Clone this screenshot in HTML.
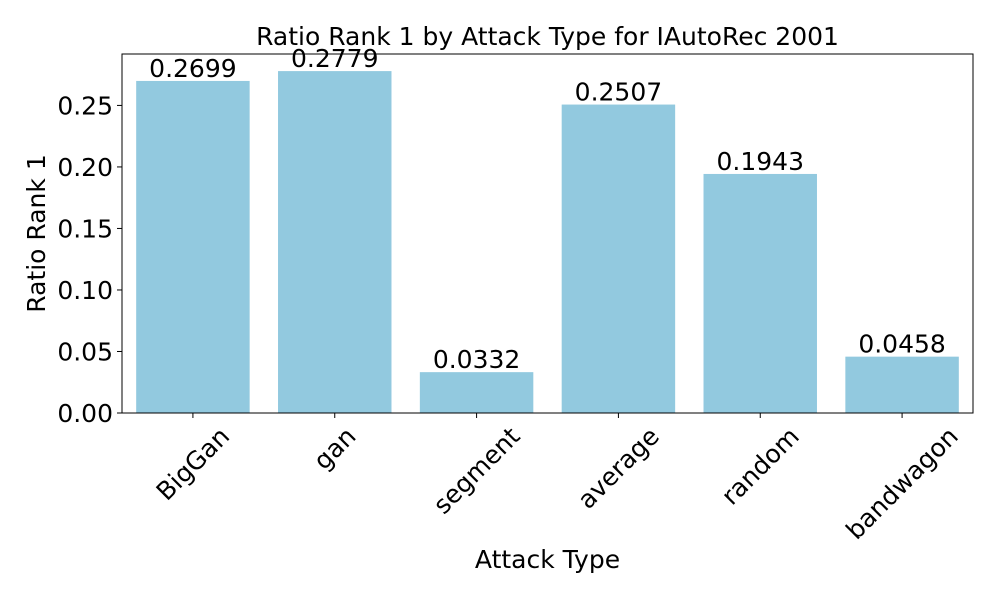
<!DOCTYPE html>
<html><head><meta charset="utf-8"><style>
body{margin:0;background:#fff}
svg text{font-family:"DejaVu Sans","Liberation Sans",sans-serif;fill:#000}
</style></head><body>
<svg id="chart" width="1000" height="600">
<g id="g"></g>
</svg>
<script>
const categories = ["BigGan","gan","segment","average","random","bandwagon"];
const values = [0.2699,0.2779,0.0332,0.2507,0.1943,0.0458];
const valueLabels = ["0.2699","0.2779","0.0332","0.2507","0.1943","0.0458"];
const yTicks = [0,0.05,0.10,0.15,0.20,0.25];
const yTickLabels = ["0.00","0.05","0.10","0.15","0.20","0.25"];

const NS="http://www.w3.org/2000/svg";
const g=document.getElementById('g');
const L=122,R=973,T=54,B=413;
const FS=25;
const ymax=Math.max(...values)*1.05;
const slot=(R-L)/categories.length;
const x=i=>L+slot*(i+0.5);
const y=v=>B-(v/ymax)*(B-T);
function el(t,a,txt){const e=document.createElementNS(NS,t);for(const k in a)e.setAttribute(k,a[k]);if(txt!==undefined)e.textContent=txt;g.appendChild(e);return e;}

categories.forEach((c,i)=>{
  const bw=slot*0.8;
  const b=el('rect',{x:x(i)-bw/2,y:y(values[i]),width:bw,height:B-y(values[i]),fill:'#92c9df'});
  
  
  const vl=el('text',{x:x(i),y:y(values[i])-4,'text-anchor':'middle','font-size':FS},valueLabels[i]);
  
  
  const tk=el('line',{x1:x(i),x2:x(i),y1:B,y2:B+5,stroke:'#000','stroke-width':1});
  
  
  const t=el('text',{'font-size':FS,'text-anchor':'middle','dominant-baseline':'central'},c);
  const len=t.getComputedTextLength();
  const cy=B+10+(len+FS)*0.7071/2;
  t.setAttribute('transform',`translate(${x(i)},${cy}) rotate(-45)`);
  
  
});
yTicks.forEach((v,i)=>{
  const tk=el('line',{x1:L-5,x2:L,y1:y(v),y2:y(v),stroke:'#000','stroke-width':1});
  
  
  const t=el('text',{x:L-9,y:y(v)+9,'text-anchor':'end','font-size':FS},yTickLabels[i]);
  
  
});
const ax=el('rect',{x:L,y:T,width:R-L,height:B-T,fill:'none',stroke:'#000','stroke-width':1});


const ti=el('text',{x:(L+R)/2,y:45,'text-anchor':'middle','font-size':FS},'Ratio Rank 1 by Attack Type for IAutoRec 2001');


const xl=el('text',{x:(L+R)/2,y:568,'text-anchor':'middle','font-size':FS},'Attack Type');


const yl=el('text',{'text-anchor':'middle','font-size':FS,transform:`translate(45,${(T+B)/2}) rotate(-90)`},'Ratio Rank 1');


</script>
</body></html>
